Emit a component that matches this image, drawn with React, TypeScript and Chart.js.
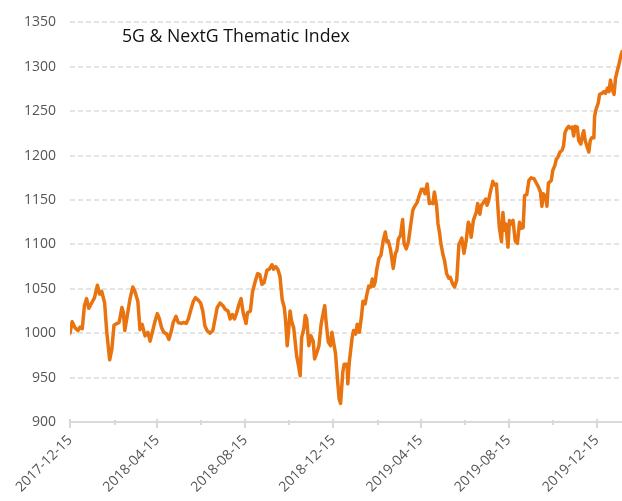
import React, { useEffect, useRef } from 'react';
import { Chart, registerables } from 'chart.js';

Chart.register(...registerables);

const chartTitle = '5G & NextG Thematic Index';

const dates = [
  '2017-12-15','2017-12-18','2017-12-22','2017-12-26','2017-12-29','2018-01-01','2018-01-04','2018-01-07','2018-01-10','2018-01-14',
  '2018-01-18','2018-01-22','2018-01-25','2018-01-28','2018-02-01','2018-02-04','2018-02-08','2018-02-11','2018-02-14','2018-02-18',
  '2018-02-21','2018-02-25','2018-02-27','2018-03-01','2018-03-05','2018-03-08','2018-03-12','2018-03-15','2018-03-19','2018-03-22',
  '2018-03-25','2018-03-29','2018-04-02','2018-04-05','2018-04-09','2018-04-12','2018-04-15','2018-04-18','2018-04-21','2018-04-24',
  '2018-04-28','2018-05-01','2018-05-04','2018-05-07','2018-05-11','2018-05-14','2018-05-18','2018-05-21','2018-05-25','2018-05-28',
  '2018-05-31','2018-06-04','2018-06-07','2018-06-11','2018-06-14','2018-06-17','2018-06-20','2018-06-23','2018-06-27','2018-07-01',
  '2018-07-04','2018-07-07','2018-07-11','2018-07-15','2018-07-18','2018-07-22','2018-07-25','2018-07-28','2018-07-31','2018-08-03',
  '2018-08-06','2018-08-09','2018-08-12','2018-08-16','2018-08-18','2018-08-22','2018-08-25','2018-08-29','2018-09-01','2018-09-04',
  '2018-09-07','2018-09-10','2018-09-14','2018-09-17','2018-09-21','2018-09-23','2018-09-26','2018-09-29','2018-10-02','2018-10-05',
  '2018-10-08','2018-10-10','2018-10-12','2018-10-14','2018-10-16','2018-10-18','2018-10-21','2018-10-23','2018-10-25','2018-10-28',
  '2018-10-30','2018-11-01','2018-11-04','2018-11-06','2018-11-08','2018-11-11','2018-11-14','2018-11-17','2018-11-19','2018-11-22',
  '2018-11-25','2018-11-28','2018-11-30','2018-12-03','2018-12-05','2018-12-08','2018-12-11','2018-12-13','2018-12-15','2018-12-18',
  '2018-12-21','2018-12-23','2018-12-25','2018-12-28','2018-12-30','2019-01-03','2019-01-04','2019-01-06','2019-01-10','2019-01-12',
  '2019-01-15','2019-01-17','2019-01-20','2019-01-23','2019-01-25','2019-01-28','2019-01-30','2019-02-02','2019-02-05','2019-02-07',
  '2019-02-09','2019-02-11','2019-02-13','2019-02-16','2019-02-19','2019-02-22','2019-02-25','2019-02-27','2019-03-01','2019-03-04',
  '2019-03-08','2019-03-11','2019-03-13','2019-03-15','2019-03-18','2019-03-21','2019-03-23','2019-03-26','2019-03-29','2019-04-01',
  '2019-04-04','2019-04-06','2019-04-10','2019-04-13','2019-04-16','2019-04-19','2019-04-21','2019-04-24','2019-04-27','2019-04-30',
  '2019-05-02','2019-05-04','2019-05-07','2019-05-09','2019-05-11','2019-05-13','2019-05-16','2019-05-18','2019-05-21','2019-05-24',
  '2019-05-26','2019-05-29','2019-06-01','2019-06-04','2019-06-07','2019-06-11','2019-06-14','2019-06-17','2019-06-20','2019-06-22',
  '2019-06-24','2019-06-27','2019-07-01','2019-07-03','2019-07-06','2019-07-08','2019-07-11','2019-07-14','2019-07-16','2019-07-18',
  '2019-07-20','2019-07-24','2019-07-26','2019-07-29','2019-07-31','2019-08-02','2019-08-05','2019-08-07','2019-08-09','2019-08-11',
  '2019-08-14','2019-08-16','2019-08-19','2019-08-21','2019-08-24','2019-08-27','2019-08-30','2019-09-01','2019-09-04','2019-09-06',
  '2019-09-09','2019-09-12','2019-09-15','2019-09-19','2019-09-23','2019-09-25','2019-09-28','2019-09-30','2019-10-02','2019-10-05',
  '2019-10-07','2019-10-09','2019-10-13','2019-10-15','2019-10-18','2019-10-20','2019-10-22','2019-10-25','2019-10-28','2019-10-30',
  '2019-11-01','2019-11-04','2019-11-06','2019-11-08','2019-11-11','2019-11-13','2019-11-15','2019-11-18','2019-11-20','2019-11-23',
  '2019-11-25','2019-11-27','2019-11-29','2019-12-02','2019-12-04','2019-12-06','2019-12-08','2019-12-11','2019-12-12','2019-12-14',
  '2019-12-17','2019-12-19','2019-12-22','2019-12-25','2019-12-27','2019-12-30','2020-01-01','2020-01-03','2020-01-05','2020-01-08',
  '2020-01-10','2020-01-12','2020-01-14','2020-01-17','2020-01-19'
];

const values = [
  1000,1013,1006,1003,1007,1005,1031,1039,1028,1034,
  1040,1054,1044,1047,1034,1001,970,982,1009,1011,
  1012,1029,1023,1003,1023,1038,1052,1047,1036,1004,
  1010,997,1001,991,1004,1014,1022,1016,1006,1001,
  999,993,1001,1012,1019,1012,1011,1012,1011,1016,
  1025,1036,1040,1037,1034,1025,1008,1003,1000,1003,
  1016,1029,1034,1031,1027,1025,1016,1021,1016,1023,
  1032,1039,1023,1011,1023,1025,1047,1059,1067,1066,
  1055,1057,1071,1072,1077,1072,1075,1072,1064,1038,
  1029,1012,986,1003,1025,1014,1006,991,975,962,
  952,995,1005,1020,1016,986,997,991,971,978,
  986,1010,1019,1031,1012,990,986,1001,991,977,
  945,926,921,956,965,965,943,967,995,1003,
  999,1010,1001,1019,1036,1033,1042,1053,1052,1061,
  1053,1058,1071,1084,1088,1104,1114,1103,1104,1095,
  1073,1090,1093,1106,1110,1128,1101,1095,1103,1121,
  1138,1142,1147,1155,1162,1162,1157,1168,1146,1147,
  1146,1159,1144,1123,1114,1101,1088,1082,1067,1062,
  1063,1056,1052,1060,1100,1107,1090,1104,1125,1121,
  1108,1127,1136,1146,1134,1144,1147,1151,1144,1149,
  1157,1171,1167,1168,1142,1119,1103,1136,1116,1123,
  1097,1127,1123,1127,1104,1101,1125,1118,1119,1155,
  1156,1172,1175,1174,1168,1165,1159,1143,1157,1154,
  1143,1169,1172,1183,1189,1196,1198,1204,1206,1211,
  1226,1231,1233,1231,1232,1222,1233,1232,1217,1213,
  1222,1228,1217,1209,1204,1217,1220,1220,1244,1252,
  1259,1269,1270,1272,1270,1276,1272,1285,1276,1269,
  1287,1294,1300,1311,1317
];

const xTickDates = [
  '2017-12-15','2018-02-15','2018-04-15','2018-06-15','2018-08-15','2018-10-15','2018-12-15',
  '2019-02-15','2019-04-15','2019-06-15','2019-08-15','2019-10-15','2019-12-15'
];
const xLabelDates = ['2017-12-15','2018-04-15','2018-08-15','2018-12-15','2019-04-15','2019-08-15','2019-12-15'];

const yMin = 900;
const yMax = 1350;
const yStep = 50;

const DAY = 86400000;
const t0 = Date.parse(dates[0]);
const toDay = (s: string) => Math.round((Date.parse(s) - t0) / DAY);
const toIso = (d: number) => new Date(t0 + Math.round(d) * DAY).toISOString().slice(0, 10);

const W = 622;
const H = 501;
const PLOT_LEFT = 70;
const PLOT_BOTTOM = 422;

export default function App() {
  const ref = useRef<HTMLCanvasElement | null>(null);

  useEffect(() => {
    if (!ref.current) return;
    const points = dates.map((d, i) => ({ x: toDay(d), y: values[i] }));

    const overlay = {
      id: 'overlay',
      afterDraw(chart: any) {
        const ctx = chart.ctx;
        const xs = chart.scales.x;
        const bottom = chart.chartArea.bottom;
        ctx.save();
        ctx.strokeStyle = '#d9d9d9';
        ctx.lineWidth = 2;
        xTickDates.forEach((s) => {
          const px = Math.round(xs.getPixelForValue(toDay(s)));
          const major = xLabelDates.includes(s);
          ctx.beginPath();
          ctx.moveTo(px, bottom - (major ? 3 : 2));
          ctx.lineTo(px, bottom + (major ? 6 : 3));
          ctx.stroke();
        });
        ctx.fillStyle = '#111';
        ctx.font = '17.7px "Open Sans"';
        ctx.textAlign = 'left';
        ctx.textBaseline = 'middle';
        ctx.fillText(chartTitle, 122, 37);
        ctx.restore();
      },
    };

    const chart = new Chart(ref.current, {
      type: 'line',
      data: {
        datasets: [
          {
            data: points,
            borderColor: '#e8730f',
            borderWidth: 3.5,
            borderJoinStyle: 'round',
            borderCapStyle: 'round',
            pointRadius: 0,
            tension: 0,
            fill: false,
          },
        ],
      },
      options: {
        animation: false,
        responsive: false,
        maintainAspectRatio: false,
        layout: { padding: { left: 0, right: 0, top: 19, bottom: 0 } },
        plugins: {
          legend: { display: false },
          tooltip: { enabled: false },
          title: { display: false },
        },
        scales: {
          x: {
            type: 'linear',
            min: 0,
            max: toDay(dates[dates.length - 1]),
            afterBuildTicks: (scale: any) => {
              scale.ticks = xTickDates.map((s) => ({ value: toDay(s) }));
            },
            afterFit: (scale: any) => {
              scale.height = H - PLOT_BOTTOM;
            },
            grid: { display: false, drawTicks: false },
            border: { display: true, color: '#d9d9d9', width: 2 },
            ticks: {
              autoSkip: false,
              maxRotation: 45,
              minRotation: 45,
              padding: 10,
              color: '#555',
              font: { family: 'Open Sans', size: 14 },
              callback: (v: any) => {
                const s = toIso(Number(v));
                return xLabelDates.includes(s) ? s : '';
              },
            },
          },
          y: {
            min: yMin,
            max: yMax,
            afterFit: (scale: any) => {
              scale.width = PLOT_LEFT;
            },
            grid: { display: true, drawTicks: false, color: '#e4e4e4', lineWidth: 2 },
            border: { display: false, dash: [5, 3] },
            ticks: {
              stepSize: yStep,
              padding: 14,
              color: '#555',
              font: { family: 'Open Sans', size: 14 },
              callback: (v: any) => String(v),
            },
          },
        },
      },
      plugins: [overlay],
    });
    return () => chart.destroy();
  }, []);

  return (
    <div style={{ position: 'absolute', left: 0, top: 0, width: W, height: H }}>
      <canvas ref={ref} width={W} height={H} style={{ width: W, height: H, display: 'block' }} />
    </div>
  );
}
